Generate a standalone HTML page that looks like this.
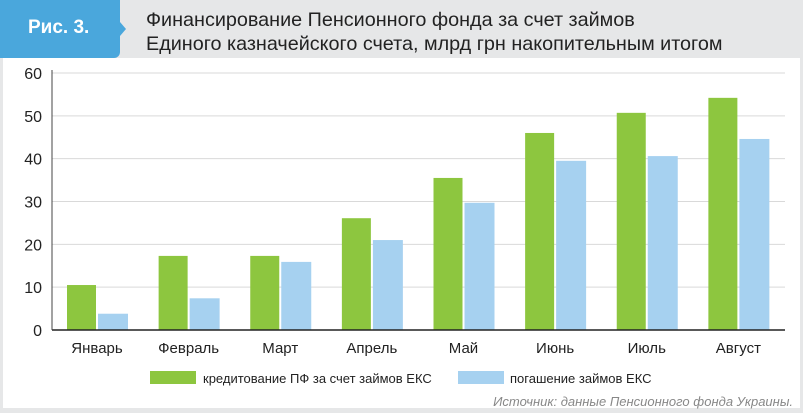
<!DOCTYPE html>
<html><head><meta charset="utf-8"><style>
body{margin:0;width:803px;height:413px;background:#e6e7e8;font-family:"Liberation Sans",sans-serif;overflow:hidden;position:relative}
.panel{position:absolute;left:3px;top:58px;width:797px;height:350px;background:#fff}
.tab{position:absolute;left:0;top:0;width:120px;height:58px;background:#4aa7dc;border-radius:0 0 6px 0}
.tab span{position:absolute;left:28px;top:17px;color:#fff;font-weight:bold;font-size:19px}
.arrow{position:absolute;left:120px;top:22px;width:0;height:0;border-top:7px solid transparent;border-bottom:7px solid transparent;border-left:6px solid #4aa7dc}
.title{position:absolute;left:146px;top:8px;font-size:19.8px;line-height:24px;color:#222}
.src{position:absolute;right:10px;top:394px;font-size:13px;font-style:italic;color:#888}
</style></head><body>
<div class="panel"></div>
<div class="tab"><span>Рис. 3.</span></div>
<div class="arrow"></div>
<div class="title">Финансирование Пенсионного фонда за счет займов<br>Единого казначейского счета, млрд грн накопительным итогом</div>
<svg id="c" width="803" height="413" style="position:absolute;left:0;top:0"></svg>
<div class="src">Источник: данные Пенсионного фонда Украины.</div>
<script>
const categories=["Январь","Февраль","Март","Апрель","Май","Июнь","Июль","Август"];
const credit=[10.5,17.3,17.3,26.1,35.5,46,50.7,54.2];
const repay=[3.8,7.4,15.9,21,29.7,39.5,40.6,44.6];
const yTicks=[0,10,20,30,40,50,60];
const svg=document.getElementById('c');
const NS='http://www.w3.org/2000/svg';
const x0=52,x1=785,y0=330,yTop=73,yMax=60;
const y=v=>y0-(v/yMax)*(y0-yTop);
const band=(x1-x0)/categories.length;
function mk(t,a){const e=document.createElementNS(NS,t);for(const k in a)e.setAttribute(k,a[k]);svg.appendChild(e);return e;}
yTicks.forEach(t=>{
  if(t>0){const g=mk('line',{x1:x0,x2:x1,y1:y(t),y2:y(t),stroke:'#d9d9d9','stroke-width':1});
  
  }
  const l=mk('text',{x:42,y:y(t)+6,'text-anchor':'end','font-size':16,fill:'#222','font-family':'Liberation Sans'});
  l.textContent=t;
  
  
});
categories.forEach((c,i)=>{
  const bx=x0+i*band+15;
  const g=mk('rect',{x:bx,y:y(credit[i]),width:29,height:y0-y(credit[i]),fill:'#8dc63f'});
  
  
  const b=mk('rect',{x:bx+31,y:y(repay[i]),width:30,height:y0-y(repay[i]),fill:'#a6d1f0'});
  
  
  const t=mk('text',{x:bx+30,y:353,'text-anchor':'middle','font-size':15,fill:'#222','font-family':'Liberation Sans'});
  t.textContent=c;
  
  
});
const ax=mk('line',{x1:x0,x2:x1,y1:y0,y2:y0,stroke:'#222','stroke-width':1.5});


const ay=mk('line',{x1:x0,x2:x0,y1:yTop-3,y2:y0,stroke:'#444','stroke-width':1});


[[150,'#8dc63f',203,'кредитование ПФ за счет займов ЕКС'],[458,'#a6d1f0',510,'погашение займов ЕКС']].forEach(d=>{
  const s=mk('rect',{x:d[0],y:371,width:46,height:13,fill:d[1]});
  
  
  const t=mk('text',{x:d[2],y:383,'font-size':13,fill:'#222','font-family':'Liberation Sans'});
  t.textContent=d[3];
  
  
});
</script>
</body></html>
